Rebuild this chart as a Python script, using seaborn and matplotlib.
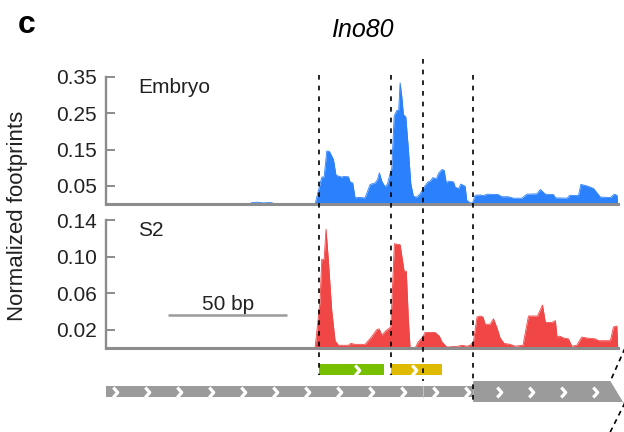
import matplotlib
matplotlib.use("Agg")
import matplotlib.pyplot as plt
import seaborn as sns
import pandas as pd
from matplotlib import transforms
from matplotlib.lines import Line2D
from matplotlib.patches import Rectangle, Polygon
from matplotlib.path import Path

# ---- footprint profiles (position in bp, normalized footprint) ----
embryo_pos = [59.7, 61.5, 63.5, 66.0, 69.0, 71.8,
              87.8, 90.6, 91.6, 92.7, 93.8, 95.5, 96.6, 99.0, 99.7, 101.8, 102.5, 103.6,
              104.6, 106.0, 108.8, 110.9, 113.0, 114.0, 114.8, 115.8, 117.2, 118.2, 119.3,
              120.0, 121.0, 122.1, 122.9, 123.5, 124.2, 124.9, 125.9, 127.0, 128.0, 129.1,
              130.5, 131.9, 133.6, 135.2, 136.1, 137.3, 138.7, 139.6, 141.0, 142.0, 142.9,
              143.8, 145.9, 146.6, 148.0, 149.0, 150.8, 151.5, 153.2, 154.1, 155.0, 157.1,
              158.5, 160.0, 164.7, 166.2, 169.0, 171.1, 174.6, 176.7, 180.9, 182.4, 184.5,
              187.9, 188.7, 193.6, 194.7, 198.4, 199.4, 201.9, 204.7, 207.6, 211.8, 213.4,
              214.6, 214.9]
embryo_val = [0.0, 0.004, 0.005, 0.003, 0.004, 0.0,
              0.0, 0.074, 0.075, 0.146, 0.145, 0.123, 0.079, 0.074, 0.076, 0.075, 0.061, 0.058,
              0.017, 0.018, 0.017, 0.054, 0.058, 0.067, 0.086, 0.063, 0.047, 0.055, 0.084,
              0.098, 0.243, 0.258, 0.258, 0.334, 0.297, 0.246, 0.240, 0.149, 0.056, 0.021,
              0.019, 0.028, 0.047, 0.061, 0.063, 0.073, 0.069, 0.084, 0.095, 0.093, 0.058,
              0.063, 0.061, 0.047, 0.042, 0.055, 0.049, 0.010, 0.002, 0.006, 0.024, 0.025,
              0.023, 0.027, 0.026, 0.020, 0.020, 0.016, 0.016, 0.027, 0.028, 0.040, 0.027,
              0.026, 0.017, 0.016, 0.024, 0.023, 0.054, 0.050, 0.043, 0.019, 0.018, 0.027,
              0.024, 0.0]

s2_pos = [87.8, 89.9, 90.6, 91.6, 92.4, 93.4, 94.8, 96.2, 97.6, 101.8, 102.8, 104.6,
          108.8, 111.6, 113.7, 114.7, 115.8, 117.6, 119.6, 121.1, 123.5, 125.2, 126.1,
          127.0, 127.7, 129.8, 131.2, 133.0, 134.0, 138.2, 140.0, 141.0, 143.1, 148.0,
          149.4, 151.5, 152.9, 154.3, 155.8, 157.1, 158.3, 159.2, 161.3, 162.7, 164.2,
          165.5, 167.2, 169.7, 171.8, 175.1, 177.4, 181.2, 183.3, 184.5, 187.3, 188.7,
          189.4, 190.5, 192.1, 194.2, 195.6, 197.7, 199.8, 201.7, 205.5, 206.8, 211.8,
          213.1, 214.5, 214.9]
s2_val = [0.0, 0.052, 0.097, 0.097, 0.130, 0.095, 0.041, 0.008, 0.003, 0.003, 0.005, 0.004,
          0.004, 0.0125, 0.020, 0.021, 0.014, 0.019, 0.023, 0.114, 0.113, 0.084, 0.084,
          0.030, 0.0, 0.0, 0.007, 0.012, 0.017, 0.017, 0.013, 0.007, 0.001, 0.002,
          0.003, 0.002, 0.003, 0.007, 0.034, 0.035, 0.034, 0.026, 0.026, 0.032, 0.022,
          0.011, 0.005, 0.004, 0.002, 0.003, 0.035, 0.035, 0.047, 0.028, 0.028, 0.030,
          0.012, 0.013, 0.011, 0.010, 0.002, 0.003, 0.012, 0.011, 0.010, 0.008, 0.008,
          0.023, 0.024, 0.0]

embryo_ticks = [0.05, 0.15, 0.25, 0.35]
s2_ticks = [0.02, 0.06, 0.10, 0.14]
x_span = (0, 215)

# feature boundaries and gene model (bp)
boundaries = [89.5, 119.7, 133.2, 154.2]
green_box = (89.5, 116.8)
yellow_box = (119.7, 141.2)
utr_span = (0, 154.2)
cds_span = (154.2, 211.8)
utr_arrows = [3.8 + 13.45 * k for k in range(12)]
cds_arrows = [165.1 + 13.45 * k for k in range(4)]
small_arrows = [105.5, 129.5]
scale_bar = (26.1, 76.1)

BLUE = "#2b80fb"
RED = "#f04646"
GREEN = "#77c000"
YELLOW = "#dfbb00"
BAR_GRAY = "#9b9b9b"
AX_GRAY = "#8c8c8c"
TXT = "#222222"

sns.set_theme(style="white")
plt.rcParams["font.family"] = ["Liberation Sans", "DejaVu Sans"]

W, H = 624, 432
fig = plt.figure(figsize=(W / 100, H / 100), dpi=100)


def fx(px):
    return px / W


def fy(py):
    return 1 - py / H


ax1 = fig.add_axes([fx(106), fy(204), fx(512), 127 / H])
ax2 = fig.add_axes([fx(106), fy(348), fx(512), 128 / H])
axg = fig.add_axes([fx(106), 0, fx(512), 82 / H])

df_e = pd.DataFrame({"pos": embryo_pos, "val": embryo_val})
df_s = pd.DataFrame({"pos": s2_pos, "val": s2_val})

for ax, df, col, ticks, top in [(ax1, df_e, BLUE, embryo_ticks, 0.35),
                                 (ax2, df_s, RED, s2_ticks, 0.14)]:
    ax.fill_between(df["pos"], 0, df["val"], color=col, linewidth=0, zorder=2)
    sns.lineplot(data=df, x="pos", y="val", ax=ax, color=col, linewidth=0.6,
                 estimator=None, sort=False, zorder=2)
    ax.set_xlim(*x_span)
    ax.set_ylim(0, top)
    ax.set_yticks(ticks)
    ax.set_yticklabels([f"{t:.2f}" for t in ticks])
    ax.set_xticks([])
    ax.set_xlabel("")
    ax.set_ylabel("")
    for s in ("top", "right"):
        ax.spines[s].set_visible(False)
    ax.spines["left"].set_color(AX_GRAY)
    ax.spines["left"].set_linewidth(1.7)
    ax.spines["bottom"].set_color(AX_GRAY)
    ax.spines["bottom"].set_linewidth(2.2)
    ax.spines["bottom"].set_zorder(3)
    ax.tick_params(axis="y", direction="in", length=6.5, width=1.4,
                   color=AX_GRAY, pad=6.7, labelsize=15, labelcolor=TXT, left=True)
    ax.patch.set_alpha(0)

ax1.text(0.0625, 0.874, "Embryo", transform=ax1.transAxes, fontsize=15,
         color=TXT, va="baseline", ha="left")
ax2.text(0.0625, 0.875, "S2", transform=ax2.transAxes, fontsize=15,
         color=TXT, va="baseline", ha="left")

# 50 bp scale bar
ax2.plot(scale_bar, [0.0361, 0.0361], color=BAR_GRAY, linewidth=1.8, solid_capstyle="butt")
ax2.text(sum(scale_bar) / 2, 0.0416, "50 bp", fontsize=15, color=TXT,
         ha="center", va="baseline")

# ---- gene model track (y in pixel rows) ----
axg.set_xlim(*x_span)
axg.set_ylim(432, 350)
axg.axis("off")

axg.add_patch(Rectangle((utr_span[0], 386), utr_span[1] - utr_span[0], 11,
                        facecolor=BAR_GRAY, edgecolor="none", zorder=1))
axg.add_patch(Polygon([(cds_span[0], 381), (cds_span[1], 381), (217.6, 404),
                       (217.6, 402), (cds_span[0], 402)], closed=True,
                      facecolor=BAR_GRAY, edgecolor="none", zorder=1, clip_on=False))
axg.add_patch(Rectangle((green_box[0], 364), green_box[1] - green_box[0], 11,
                        facecolor=GREEN, edgecolor="none", zorder=1))
axg.add_patch(Rectangle((yellow_box[0], 364), yellow_box[1] - yellow_box[0], 11,
                        facecolor=YELLOW, edgecolor="none", zorder=1))
axg.plot([boundaries[2], boundaries[2]], [386, 397], color="#c4c4c4", linewidth=0.8, zorder=2)

chev = Path([(-0.45, 1.0), (0.45, 0.0), (-0.45, -1.0)],
            [Path.MOVETO, Path.LINETO, Path.LINETO])
mk = dict(marker=chev, linestyle="none", markersize=7.2, markerfacecolor="none",
          markeredgecolor="white", markeredgewidth=2.3, zorder=3)
axg.plot(utr_arrows, [391.5] * len(utr_arrows), **mk)
axg.plot(cds_arrows, [391.5] * len(cds_arrows), **mk)
axg.plot(small_arrows, [369.5] * len(small_arrows), **mk)

# break mark at the right end of the gene model
dash = (0, (3.0, 2.6))
axg.plot([218.9, 211.8], [343, 381], color="black", linewidth=1.2, linestyle=dash,
         clip_on=False, zorder=4)
axg.plot([218.5, 210.9], [400, 436], color="black", linewidth=1.2, linestyle=dash,
         clip_on=False, zorder=4)

# ---- dashed boundary lines across all panels ----
trans = transforms.blended_transform_factory(ax1.transData, fig.transFigure)
line_tops = [75, 75, 59, 75]
line_bottoms = [375, 375, 381, 402]
for xb, t, b in zip(boundaries, line_tops, line_bottoms):
    fig.add_artist(Line2D([xb, xb], [fy(t), fy(b)], transform=trans, color="black",
                          linewidth=1.2, linestyle=(0, (2.8, 3.6)), zorder=10))

# ---- labels ----
fig.text(fx(362), fy(37), "Ino80", fontsize=18, style="italic", color="black",
         ha="center", va="baseline")
fig.text(fx(18), fy(33), "c", fontsize=23, fontweight="bold", color="black",
         ha="left", va="baseline")
fig.text(fx(18), 0.5, "Normalized footprints", fontsize=16, color=TXT,
         rotation=90, ha="center", va="center")

fig.savefig("out.png", dpi=100)
